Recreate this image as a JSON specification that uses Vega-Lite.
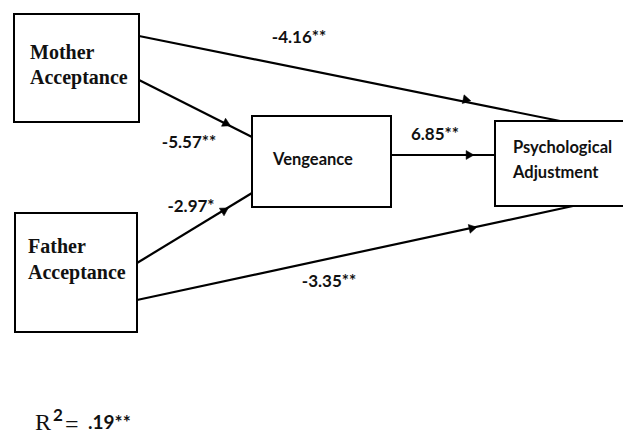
{
  "$schema": "https://vega.github.io/schema/vega-lite/v6.json",
  "width": 623,
  "height": 437,
  "autosize": {"type": "fit", "contains": "padding"},
  "padding": 0,
  "background": "white",
  "view": {"stroke": null},
  "datasets": {
    "nodes": [
      {"node": "Mother Acceptance", "left": 14, "right": 139, "top": 14, "bottom": 122},
      {"node": "Father Acceptance", "left": 15, "right": 137, "top": 213, "bottom": 332},
      {"node": "Vengeance", "left": 252, "right": 391, "top": 116, "bottom": 207},
      {"node": "Psychological Adjustment", "left": 495, "right": 640, "top": 121, "bottom": 206}
    ],
    "edges": [
      {"from": "Mother Acceptance", "to": "Psychological Adjustment", "x1": 139, "y1": 36, "x2": 560, "y2": 121},
      {"from": "Mother Acceptance", "to": "Vengeance", "x1": 139, "y1": 80, "x2": 252, "y2": 137},
      {"from": "Father Acceptance", "to": "Vengeance", "x1": 137, "y1": 263, "x2": 252, "y2": 193},
      {"from": "Father Acceptance", "to": "Psychological Adjustment", "x1": 137, "y1": 300, "x2": 573, "y2": 206},
      {"from": "Vengeance", "to": "Psychological Adjustment", "x1": 391, "y1": 155, "x2": 495, "y2": 155}
    ],
    "arrows": [
      {"edge": "Mother-Psych", "x": 467, "y": 100, "angle": 11.4},
      {"edge": "Mother-Veng", "x": 227, "y": 124, "angle": 26.8},
      {"edge": "Father-Veng", "x": 225, "y": 210, "angle": 328.7},
      {"edge": "Father-Psych", "x": 473, "y": 228, "angle": 347.8},
      {"edge": "Veng-Psych", "x": 470, "y": 155, "angle": 0}
    ],
    "serifLabels": [
      {"text": "Mother", "x": 30, "y": 53},
      {"text": "Acceptance", "x": 30, "y": 78},
      {"text": "Father", "x": 28, "y": 247},
      {"text": "Acceptance", "x": 28, "y": 273}
    ],
    "sansLabels": [
      {"text": "Vengeance", "x": 273, "y": 160},
      {"text": "Psychological", "x": 513, "y": 148},
      {"text": "Adjustment", "x": 513, "y": 173}
    ],
    "coefs": [
      {"text": "-4.16**", "x": 299, "y": 38},
      {"text": "-5.57**", "x": 189, "y": 143},
      {"text": "-2.97*", "x": 191, "y": 207},
      {"text": "6.85**", "x": 435, "y": 135},
      {"text": "-3.35**", "x": 329, "y": 282}
    ]
  },
  "layer": [
    {
      "data": {"name": "nodes"},
      "mark": {"type": "rect", "fill": "white", "stroke": "black", "strokeWidth": 2, "clip": true},
      "encoding": {
        "x": {"field": "left", "type": "quantitative", "scale": {"domain": [0, 623], "nice": false, "zero": false}, "axis": null},
        "x2": {"field": "right"},
        "y": {"field": "top", "type": "quantitative", "scale": {"domain": [0, 437], "reverse": true, "nice": false, "zero": false}, "axis": null},
        "y2": {"field": "bottom"}
      }
    },
    {
      "data": {"name": "edges"},
      "mark": {"type": "rule", "stroke": "black", "strokeWidth": 2.2},
      "encoding": {
        "x": {"field": "x1", "type": "quantitative", "scale": {"domain": [0, 623], "nice": false, "zero": false}, "axis": null},
        "x2": {"field": "x2"},
        "y": {"field": "y1", "type": "quantitative", "scale": {"domain": [0, 437], "reverse": true, "nice": false, "zero": false}, "axis": null},
        "y2": {"field": "y2"}
      }
    },
    {
      "data": {"name": "arrows"},
      "mark": {"type": "point", "shape": "triangle-right", "filled": true, "fill": "black", "stroke": "black", "strokeWidth": 0.5, "opacity": 1, "size": 80},
      "encoding": {
        "x": {"field": "x", "type": "quantitative", "scale": {"domain": [0, 623], "nice": false, "zero": false}, "axis": null},
        "y": {"field": "y", "type": "quantitative", "scale": {"domain": [0, 437], "reverse": true, "nice": false, "zero": false}, "axis": null},
        "angle": {"field": "angle", "type": "quantitative", "scale": null}
      }
    },
    {
      "data": {"name": "serifLabels"},
      "mark": {"type": "text", "font": "Liberation Serif", "fontWeight": "bold", "fontSize": 20, "align": "left", "baseline": "middle", "color": "#111"},
      "encoding": {
        "x": {"field": "x", "type": "quantitative", "scale": {"domain": [0, 623], "nice": false, "zero": false}, "axis": null},
        "y": {"field": "y", "type": "quantitative", "scale": {"domain": [0, 437], "reverse": true, "nice": false, "zero": false}, "axis": null},
        "text": {"field": "text"}
      }
    },
    {
      "data": {"name": "sansLabels"},
      "mark": {"type": "text", "font": "Lato", "fontWeight": "bold", "fontSize": 16.5, "align": "left", "baseline": "middle", "color": "#111"},
      "encoding": {
        "x": {"field": "x", "type": "quantitative", "scale": {"domain": [0, 623], "nice": false, "zero": false}, "axis": null},
        "y": {"field": "y", "type": "quantitative", "scale": {"domain": [0, 437], "reverse": true, "nice": false, "zero": false}, "axis": null},
        "text": {"field": "text"}
      }
    },
    {
      "data": {"name": "coefs"},
      "mark": {"type": "text", "font": "Lato", "fontWeight": "bold", "fontSize": 17, "align": "center", "baseline": "middle", "color": "#111"},
      "encoding": {
        "x": {"field": "x", "type": "quantitative", "scale": {"domain": [0, 623], "nice": false, "zero": false}, "axis": null},
        "y": {"field": "y", "type": "quantitative", "scale": {"domain": [0, 437], "reverse": true, "nice": false, "zero": false}, "axis": null},
        "text": {"field": "text"}
      }
    },
    {
      "data": {"values": [{"text": "R", "x": 35, "y": 423}, {"text": "=", "x": 65, "y": 425}]},
      "mark": {"type": "text", "font": "Liberation Serif", "fontSize": 24, "align": "left", "baseline": "middle", "color": "#111"},
      "encoding": {
        "x": {"field": "x", "type": "quantitative", "scale": {"domain": [0, 623], "nice": false, "zero": false}, "axis": null},
        "y": {"field": "y", "type": "quantitative", "scale": {"domain": [0, 437], "reverse": true, "nice": false, "zero": false}, "axis": null},
        "text": {"field": "text"}
      }
    },
    {
      "data": {"values": [{"text": "2", "x": 53, "y": 416}]},
      "mark": {"type": "text", "font": "Lato", "fontWeight": "bold", "fontSize": 17, "align": "left", "baseline": "middle", "color": "#111"},
      "encoding": {
        "x": {"field": "x", "type": "quantitative", "scale": {"domain": [0, 623], "nice": false, "zero": false}, "axis": null},
        "y": {"field": "y", "type": "quantitative", "scale": {"domain": [0, 437], "reverse": true, "nice": false, "zero": false}, "axis": null},
        "text": {"field": "text"}
      }
    },
    {
      "data": {"values": [{"text": ".19**", "x": 88, "y": 423}]},
      "mark": {"type": "text", "font": "Lato", "fontWeight": "bold", "fontSize": 19, "align": "left", "baseline": "middle", "color": "#111"},
      "encoding": {
        "x": {"field": "x", "type": "quantitative", "scale": {"domain": [0, 623], "nice": false, "zero": false}, "axis": null},
        "y": {"field": "y", "type": "quantitative", "scale": {"domain": [0, 437], "reverse": true, "nice": false, "zero": false}, "axis": null},
        "text": {"field": "text"}
      }
    }
  ]
}
